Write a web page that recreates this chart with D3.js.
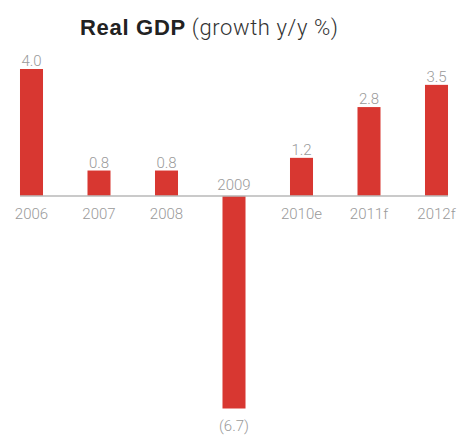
<!DOCTYPE html>
<html>
<head>
<meta charset="utf-8">
<script src="https://cdn.jsdelivr.net/npm/d3@7"></script>
<style>
  html, body { margin: 0; padding: 0; background: #fff; }
  svg { display: block; }
</style>
</head>
<body>
<svg id="chart" width="457" height="435"></svg>
<script>
// Real GDP growth, year over year (%)
const years = ["2006", "2007", "2008", "2009", "2010e", "2011f", "2012f"];
const growth = [4.0, 0.8, 0.8, -6.7, 1.2, 2.8, 3.5];
const valueLabels = ["4.0", "0.8", "0.8", "(6.7)", "1.2", "2.8", "3.5"];

const svg = d3.select("#chart");
const lightFont = "Roboto, 'Liberation Sans', sans-serif";
const barColor = "#d83731";
const textGray = "#9a9a9a";

const x = d3.scaleBand()
  .domain(years)
  .range([-2.25, 470.25])
  .paddingInner(0.659)
  .paddingOuter(0.3295);

const y = d3.scaleLinear()
  .domain([-6.7, 4.0])
  .range([408.5, 69]);

// Title
const title = svg.append("text")
  .attr("x", 80)
  .attr("y", 35)
  .attr("font-size", 22)
  .attr("fill", "#222");
title.append("tspan")
  .attr("font-family", "'Liberation Sans', Arial, sans-serif")
  .attr("font-weight", "bold")
  .attr("letter-spacing", 0.7)
  .text("Real GDP");
title.append("tspan")
  .attr("font-family", lightFont)
  .attr("font-weight", 300)
  .attr("letter-spacing", 0.6)
  .attr("fill", "#333")
  .text(" (growth y/y %)");

// Bars
svg.append("g")
  .selectAll("rect")
  .data(growth)
  .join("rect")
  .attr("x", (d, i) => x(years[i]))
  .attr("width", x.bandwidth())
  .attr("y", d => Math.min(y(d), y(0)))
  .attr("height", d => Math.abs(y(d) - y(0)))
  .attr("fill", barColor);

// Zero line
svg.append("line")
  .attr("x1", 20)
  .attr("x2", 448)
  .attr("y1", y(0))
  .attr("y2", y(0))
  .attr("stroke", "#b8b8b8")
  .attr("stroke-width", 1.5);

// Value labels
svg.append("g")
  .selectAll("text")
  .data(growth)
  .join("text")
  .attr("x", (d, i) => x(years[i]) + x.bandwidth() / 2)
  .attr("y", d => d >= 0 ? y(d) - 3 : y(d) + 22)
  .attr("text-anchor", "middle")
  .attr("font-family", lightFont)
  .attr("font-weight", 300)
  .attr("font-size", 15)
  .attr("fill", textGray)
  .text((d, i) => valueLabels[i]);

// Category labels: below the line for gains, above it for the decline
svg.append("g")
  .selectAll("text")
  .data(years)
  .join("text")
  .attr("x", d => x(d) + x.bandwidth() / 2)
  .attr("y", (d, i) => growth[i] >= 0 ? y(0) + 23 : y(0) - 5.5)
  .attr("text-anchor", "middle")
  .attr("font-family", lightFont)
  .attr("font-weight", 300)
  .attr("font-size", 15)
  .attr("fill", textGray)
  .text(d => d);
</script>
</body>
</html>
